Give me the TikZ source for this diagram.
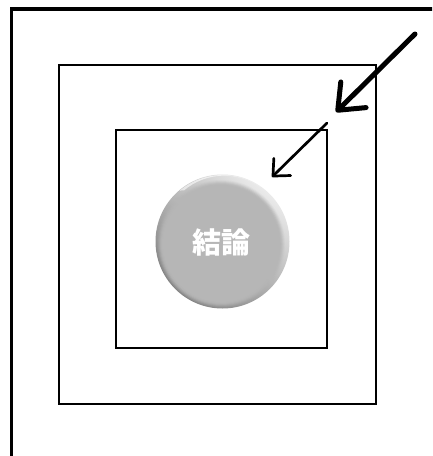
\documentclass[tikz,border=0pt]{standalone}
\usepackage{fontspec}
\newfontfamily\cjk{Noto Sans CJK JP}
\usetikzlibrary{arrows.meta,shadings}
\definecolor{discgray}{HTML}{B6B6B6}
\tikzset{
  frame/.style={draw=black, line width=#1},
  bigarrow/.style={line width=5pt, line cap=round, line join=round,
    -{Straight Barb[length=22pt, width=36pt, line cap=round, line join=round]}},
  smallarrow/.style={line width=2.7pt, line cap=round, line join=round,
    -{Straight Barb[length=13pt, width=24pt, line cap=round, line join=round]}},
}
\begin{document}
\begin{tikzpicture}[x=1pt,y=-1pt]
\useasboundingbox (0,0) rectangle (432,456);
\clip (0,0) rectangle (432,456);
% frames
\draw[frame=3.2pt] (11.5,9) rectangle (445,470);
\draw[frame=2.8pt] (59,65) rectangle (376,404);
\draw[frame=2.4pt] (116,130) rectangle (327,348);
% disc
\coordinate (c) at (222.5,241.5);
\shade[shading=axis, top color=white!92!black, bottom color=black!50, shading angle=-40]
  (c) circle (67);
\fill[white, opacity=0.6] (c) ++(-130:66.5) arc (-130:-55:66.5) arc (-55:-130:63) -- cycle;
\foreach \r/\o in {64/0.12,63/0.22,62/0.34,61/0.48,60/0.62,59/0.78}{
  \fill[discgray, opacity=\o] ([xshift=-1.5pt,yshift=-2.5pt]c) circle (\r);
}
\fill[discgray] ([xshift=-1.5pt,yshift=-2.5pt]c) circle (58);
\node[font=\cjk\bfseries\fontsize{29}{32}\selectfont, text=white, inner sep=0pt]
  (concl) at (221.5,242.5) {結論};
% arrows
\coordinate (a1s) at (415,34);
\coordinate (a1e) at (336,112);
\coordinate (a2s) at (327,123);
\coordinate (a2e) at (272,177);
\draw[bigarrow] (a1s) -- (a1e);
\draw[smallarrow] (a2s) -- (a2e);
\end{tikzpicture}
\end{document}
